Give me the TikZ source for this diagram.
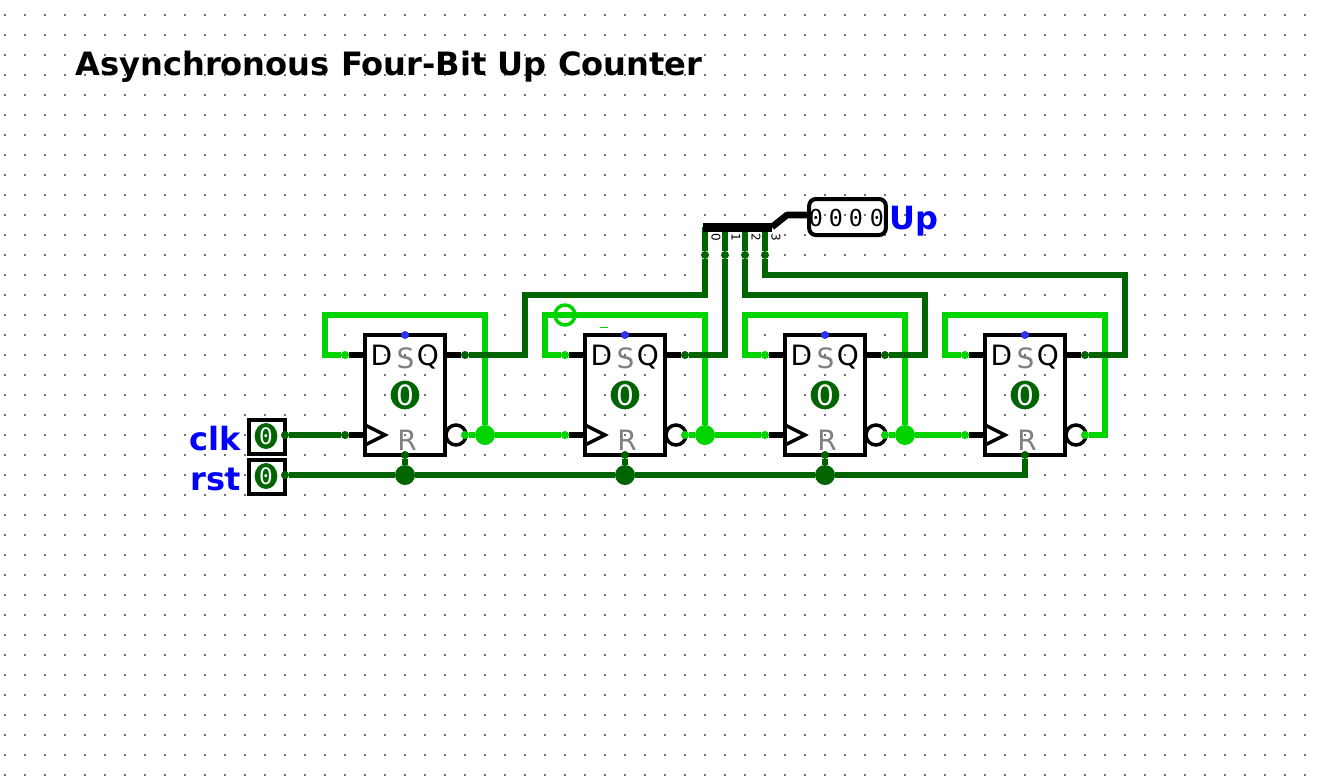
\documentclass[tikz,border=0pt]{standalone}
\usepackage{fontspec}
\setmainfont{DejaVu Sans}
\newfontfamily\monofam{DejaVu Sans Mono}
\usetikzlibrary{backgrounds,calc,shapes.geometric}
\definecolor{wlo}{HTML}{006400}
\definecolor{whi}{HTML}{00D400}
\definecolor{wset}{HTML}{3030FF}
\definecolor{griddot}{HTML}{707070}
\definecolor{pingray}{HTML}{808080}
\tikzset{
  ffbox/.style={draw=black,line width=2.6pt,minimum width=60pt,minimum height=90pt,inner sep=0pt,outer sep=0pt,line join=miter},
  inbox/.style={draw=black,line width=3pt,minimum width=27pt,minimum height=25.5pt,inner sep=0pt,outer sep=0pt},
  dispbox/.style={draw=black,line width=3pt,rounded corners=5pt,minimum width=57.5pt,minimum height=27pt,inner sep=0pt,outer sep=0pt},
  lodot/.style={circle,fill=wlo,minimum size=6pt,inner sep=0pt,outer sep=0pt},
  hidot/.style={circle,fill=whi,minimum size=6pt,inner sep=0pt,outer sep=0pt},
  setdot/.style={circle,fill=wset,minimum size=6pt,inner sep=0pt,outer sep=0pt},
  lojct/.style={circle,fill=wlo,minimum size=15pt,inner sep=0pt,outer sep=0pt},
  hijct/.style={circle,fill=whi,minimum size=15pt,inner sep=0pt,outer sep=0pt},
  invring/.style={circle,draw=black,line width=2.6pt,minimum size=15pt,inner sep=0pt,outer sep=0pt},
  probe/.style={circle,draw=whi,line width=2.6pt,minimum size=15pt,inner sep=0pt,outer sep=0pt},
  ffletter/.style={inner sep=0pt,font=\fontsize{21}{23}\selectfont,text=black},
  ffgray/.style={inner sep=0pt,font=\fontsize{21}{23}\selectfont,text=pingray},
  ffval/.style={circle,fill=wlo,minimum size=21.5pt,inner sep=0pt,text=white,font=\fontsize{21}{22}\selectfont},
  inval/.style={ellipse,fill=wlo,minimum width=17pt,minimum height=19.5pt,inner sep=0pt,text=white,font=\monofam\fontsize{17}{18}\selectfont},
  siglabel/.style={inner sep=0pt,text=blue,font=\bfseries\fontsize{24}{26}\selectfont},
  bitlabel/.style={inner sep=0pt,rotate=-90,font=\fontsize{9}{10}\selectfont},
  dispdigit/.style={inner sep=0pt,font=\monofam\fontsize{17.5}{18}\selectfont},
  wirelo/.style={draw=wlo,line width=4.2pt,line join=miter},
  wirehi/.style={draw=whi,line width=4.2pt,line join=miter},
  stub/.style={draw=black,line width=4.2pt},
  busthick/.style={draw=black,line width=6.75pt},
  busthin/.style={draw=black,line width=5pt,line join=round},
  clktri/.style={draw=black,line width=2.6pt,line join=miter}
}
\begin{document}
\begin{tikzpicture}[x=0.75pt,y=-0.75pt]
\useasboundingbox (0,0) rectangle (1323,778);
% title
\node[anchor=base west,inner sep=0pt,font=\bfseries\fontsize{24.1}{26}\selectfont] (title) at (75,75) {Asynchronous Four-Bit Up Counter};
% flip-flops
\foreach \n/\cx in {1/405,2/625,3/825,4/1025}{
  \node[ffbox] (ff\n) at (\cx,395) {};
  \node[ffletter] (dl\n) at (\cx-23.5,355.5) {D};
  \node[ffgray] (sl\n) at (\cx+0.5,358.5) {S};
  \node[ffletter] (ql\n) at (\cx+23,356.5) {Q};
  \node[ffgray] (rl\n) at (\cx+2,440) {R};
  \node[ffval] (val\n) at (\cx,395) {0};
  \node[invring] (inv\n) at (\cx+51,435) {};
  \draw[clktri] (\cx-40,425) -- (\cx-20,435) -- (\cx-40,445);
  \node[setdot] (set\n) at (\cx,335) {};
  \node[lodot] (rst\n) at (\cx,455) {};
  \node[lodot] (q\n) at (\cx+60,355) {};
  \node[hidot] (d\n) at (\cx-60,355) {};
  \node[hidot] (qn\n) at (\cx+60,435) {};
}
\node[lodot] (ck1) at (345,435) {};
\node[hidot] (ck2) at (565,435) {};
\node[hidot] (ck3) at (765,435) {};
\node[hidot] (ck4) at (965,435) {};
\node[hijct] (j1) at (485,435) {};
\node[hijct] (j2) at (705,435) {};
\node[hijct] (j3) at (905,435) {};
\coordinate (j4) at (1105,435);
\node[lojct] (r1) at (405,475) {};
\node[lojct] (r2) at (625,475) {};
\node[lojct] (r3) at (825,475) {};
\coordinate (r4) at (1025,475);
\node[probe] (ring) at (565,315) {};
% inputs
\node[inbox] (clkbox) at (267,437) {};
\node[inbox] (rstbox) at (267,477) {};
\node[inval] (clkval) at (266,436) {0};
\node[inval] (rstval) at (266,476) {0};
\node[lodot] (clkpin) at (285,435) {};
\node[lodot] (rstpin) at (285,475) {};
\node[siglabel,anchor=base east] (clklabel) at (241,450) {clk};
\node[siglabel,anchor=base east] (rstlabel) at (241,490) {rst};
% splitter
\coordinate (busl) at (703,227);
\coordinate (busr) at (772,227);
\coordinate (buskink) at (787,215);
\node[lodot] (b0) at (705,255) {};
\node[lodot] (b1) at (725,255) {};
\node[lodot] (b2) at (745,255) {};
\node[lodot] (b3) at (765,255) {};
\node[bitlabel] (bl0) at (716,237.5) {0};
\node[bitlabel] (bl1) at (736,237.5) {1};
\node[bitlabel] (bl2) at (756,237.5) {2};
\node[bitlabel] (bl3) at (776,237.5) {3};
% output display
\node[dispbox] (disp) at (847.5,217) {};
\node[dispdigit] (dg3) at (816,218) {0};
\node[dispdigit] (dg2) at (836,218) {0};
\node[dispdigit] (dg1) at (856,218) {0};
\node[dispdigit] (dg0) at (877,218) {0};
\node[siglabel,anchor=base west] (uplabel) at (889,229) {Up};
\draw[whi,line width=0.6pt] (600,327) -- (608,327);
\begin{scope}[on background layer]
  % grid
  \foreach \gx in {0,...,65}{
    \foreach \gy in {0,...,38}{
      \fill[griddot] ({5+20*\gx-1},{15+20*\gy-1}) rectangle ++(2,2);
    }
  }
  % pin stubs
  \foreach \n in {1,2,3,4}{
    \draw[stub] (d\n) -- (d\n -| ff\n.west);
    \draw[stub] (q\n) -- (q\n -| ff\n.east);
    \draw[stub] (ck\n) -- (ck\n -| ff\n.west);
  }
  % reset bus
  \draw[wirelo] (rstpin) -- (r1) -- (r2) -- (r3) -- (r4) -- (rst4);
  \draw[wirelo] (rst1) -- (r1);
  \draw[wirelo] (rst2) -- (r2);
  \draw[wirelo] (rst3) -- (r3);
  % clock
  \draw[wirelo] (clkpin) -- (ck1);
  \draw[wirehi] (qn1) -- (j1) -- (ck2);
  \draw[wirehi] (qn2) -- (j2) -- (ck3);
  \draw[wirehi] (qn3) -- (j3) -- (ck4);
  % feedback
  \draw[wirehi] (d1) -- ++(-20,0) -- ++(0,-40) -| (j1);
  \draw[wirehi] (d2) -- ++(-20,0) -- ++(0,-40) -| (j2);
  \draw[wirehi] (d3) -- ++(-20,0) -- ++(0,-40) -| (j3);
  \draw[wirehi] (d4) -- ++(-20,0) -- ++(0,-40) -| (j4) -- (qn4);
  % Q outputs to splitter
  \draw[wirelo] (b0 |- busl) -- (b0) -- ++(0,40) -| ($(q1)+(60,0)$) -- (q1);
  \draw[wirelo] (b1 |- busl) -- (b1) -- (b1 |- q2) -- (q2);
  \draw[wirelo] (b2 |- busl) -- (b2) -- ++(0,40) -| ($(q3)+(40,0)$) -- (q3);
  \draw[wirelo] (b3 |- busl) -- (b3) -- ++(0,20) -| ($(q4)+(40,0)$) -- (q4);
  % bus
  \draw[busthick] (busl) -- (busr);
  \draw[busthin] (busr) -- (buskink) -- (buskink -| disp.west);
\end{scope}
\end{tikzpicture}
\end{document}
